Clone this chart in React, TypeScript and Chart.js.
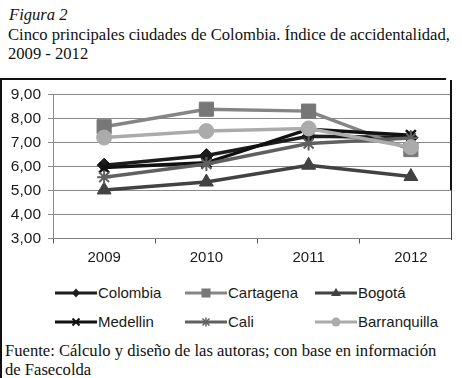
import React, { useEffect, useRef } from "react";
import { Chart, registerables } from "chart.js";

Chart.register(...registerables);

const years = ["2009", "2010", "2011", "2012"];
const colombia = [6.05, 6.45, 7.25, 7.2];
const cartagena = [7.65, 8.38, 8.3, 6.7];
const bogota = [5.02, 5.35, 6.05, 5.58];
const medellin = [5.95, 6.15, 7.55, 7.3];
const cali = [5.55, 6.1, 6.95, 7.18];
const barranquilla = [7.2, 7.47, 7.58, 6.8];

const yMin = 3;
const yMax = 9;
const yStep = 1;

const titleLines = [
  "Cinco principales ciudades de Colombia. Índice de accidentalidad,",
  "2009 - 2012",
];
const sourceLines = [
  "Fuente: Cálculo y diseño de las autoras; con base en información",
  "de Fasecolda",
];

type SeriesDef = {
  label: string;
  data: number[];
  color: string;
  fill: string;
  style: any;
  radius: number;
  pbw: number;
};

const series: SeriesDef[] = [
  { label: "Colombia", data: colombia, color: "#1c1c1c", fill: "#1c1c1c", style: "rectRot", radius: 7, pbw: 1 },
  { label: "Cartagena", data: cartagena, color: "#858585", fill: "#777777", style: "rect", radius: 10, pbw: 1 },
  { label: "Bogotá", data: bogota, color: "#424242", fill: "#424242", style: "triangle", radius: 8, pbw: 1 },
  { label: "Medellin", data: medellin, color: "#111111", fill: "#111111", style: "crossRot", radius: 7, pbw: 2.5 },
  { label: "Cali", data: cali, color: "#606060", fill: "#606060", style: "star", radius: 7, pbw: 2 },
  { label: "Barranquilla", data: barranquilla, color: "#ababab", fill: "#ababab", style: "circle", radius: 7.5, pbw: 1 },
];

const serif = "'Liberation Serif', 'Times New Roman', serif";
const sans = "'Liberation Sans', Arial, sans-serif";

function Marker({ style, color }: { style: string; color: string }) {
  const cx = 21, cy = 8;
  switch (style) {
    case "rectRot":
      return <polygon points={`${cx},${cy - 4.5} ${cx + 4},${cy} ${cx},${cy + 4.5} ${cx - 4},${cy}`} fill={color} />;
    case "rect":
      return <rect x={cx - 4.5} y={cy - 4.5} width={9} height={9} fill={color} />;
    case "triangle":
      return <polygon points={`${cx},${cy - 5} ${cx + 5},${cy + 3} ${cx - 5},${cy + 3}`} fill={color} />;
    case "crossRot":
      return (
        <g stroke={color} strokeWidth={2}>
          <line x1={cx - 3.5} y1={cy - 3.5} x2={cx + 3.5} y2={cy + 3.5} />
          <line x1={cx - 3.5} y1={cy + 3.5} x2={cx + 3.5} y2={cy - 3.5} />
        </g>
      );
    case "star":
      return (
        <g stroke={color} strokeWidth={1.5}>
          <line x1={cx - 3.5} y1={cy - 3.5} x2={cx + 3.5} y2={cy + 3.5} />
          <line x1={cx - 3.5} y1={cy + 3.5} x2={cx + 3.5} y2={cy - 3.5} />
          <line x1={cx} y1={cy - 4.5} x2={cx} y2={cy + 4.5} />
        </g>
      );
    default:
      return <circle cx={cx} cy={cy} r={4.5} fill={color} />;
  }
}

const legendCols = [55, 185, 315];
const legendRows = [285.3, 313.7];

export default function App() {
  const canvasRef = useRef<HTMLCanvasElement | null>(null);

  useEffect(() => {
    const canvas = canvasRef.current;
    if (!canvas) return;
    const chart = new Chart(canvas, {
      type: "line",
      data: {
        labels: years,
        datasets: series.map((s, i) => ({
          label: s.label,
          data: s.data,
          borderColor: s.color,
          backgroundColor: s.fill,
          borderWidth: 3.5,
          pointStyle: s.style,
          pointRadius: s.radius,
          pointBorderWidth: s.pbw,
          pointBorderColor: s.style === "crossRot" || s.style === "star" ? s.color : s.fill,
          pointBackgroundColor: s.fill,
          tension: 0,
          order: series.length - 1 - i,
        })),
      },
      options: {
        responsive: false,
        animation: false,
        devicePixelRatio: 1,
        layout: { padding: { top: 11, left: 0, right: 0, bottom: 0 } },
        plugins: {
          legend: { display: false },
          tooltip: { enabled: false },
          title: { display: false },
        },
        scales: {
          x: {
            type: "category",
            offset: true,
            grid: {
              offset: true,
              drawOnChartArea: false,
              drawTicks: true,
              tickLength: 5,
              color: "#555555",
            },
            border: { display: true, color: "#808080", width: 1 },
            ticks: {
              color: "#1a1a1a",
              font: { family: sans, size: 15 },
              padding: 5.5,
              maxRotation: 0,
            },
            afterFit: (scale: any) => {
              scale.height = 39.5;
            },
          },
          y: {
            type: "linear",
            min: yMin,
            max: yMax,
            grid: {
              color: "#8a8a8a",
              lineWidth: 1,
              drawTicks: true,
              tickLength: 5,
            },
            border: { display: true, color: "#8a8a8a", width: 1 },
            ticks: {
              stepSize: yStep,
              color: "#1a1a1a",
              font: { family: sans, size: 15.5 },
              padding: 7,
              callback: (v: any) => Number(v).toFixed(2).replace(".", ","),
            },
            afterFit: (scale: any) => {
              scale.width = 53;
            },
          },
        },
      },
    });
    return () => chart.destroy();
  }, []);

  const serifSize = 16.6;

  return (
    <div
      style={{
        position: "absolute",
        left: 0,
        top: 0,
        width: 462,
        height: 378,
        overflow: "hidden",
        background: "#ffffff",
      }}
    >
      <div
        style={{
          position: "absolute",
          left: 9,
          top: 5,
          font: `italic ${serifSize}px ${serif}`,
          lineHeight: "19.6px",
          color: "#111",
          whiteSpace: "nowrap",
        }}
      >
        Figura 2
      </div>
      {titleLines.map((t, i) => (
        <div
          key={t}
          style={{
            position: "absolute",
            left: 8,
            top: 24.6 + i * 19.6,
            font: `${serifSize}px ${serif}`,
            lineHeight: "19.6px",
            color: "#111",
            whiteSpace: "nowrap",
          }}
        >
          {t}
        </div>
      ))}

      <div style={{ position: "absolute", left: 0, top: 78, width: 451, height: 200, overflow: "hidden" }}>
        <canvas ref={canvasRef} width={473} height={200} style={{ width: 473, height: 200, display: "block" }} />
      </div>

      {/* frame */}
      <div style={{ position: "absolute", left: 0, top: 77.5, width: 446, height: 2, background: "#111" }} />
      <div style={{ position: "absolute", left: 0, top: 78, width: 2, height: 300, background: "#111" }} />
      <div style={{ position: "absolute", left: 450, top: 80, width: 2, height: 110, background: "#111" }} />
      <div style={{ position: "absolute", left: 450.5, top: 190, width: 1, height: 50, background: "#444" }} />

      {/* legend */}
      {series.map((s, i) => {
        const col = i % 3;
        const row = Math.floor(i / 3);
        return (
          <div
            key={s.label}
            style={{
              position: "absolute",
              left: legendCols[col],
              top: legendRows[row],
              height: 16,
              display: "flex",
              alignItems: "center",
              whiteSpace: "nowrap",
            }}
          >
            <svg width={43} height={16} style={{ display: "block" }}>
              <line x1={0} y1={8} x2={42} y2={8} stroke={s.color} strokeWidth={3} />
              <Marker style={s.style} color={s.fill} />
            </svg>
            <span style={{ font: `15px ${sans}`, lineHeight: "16px", color: "#1a1a1a" }}>{s.label}</span>
          </div>
        );
      })}

      {sourceLines.map((t, i) => (
        <div
          key={t}
          style={{
            position: "absolute",
            left: 5,
            top: 340.8 + i * 19.6,
            font: `${serifSize}px ${serif}`,
            lineHeight: "19.6px",
            color: "#111",
            whiteSpace: "nowrap",
          }}
        >
          {t}
        </div>
      ))}
    </div>
  );
}
